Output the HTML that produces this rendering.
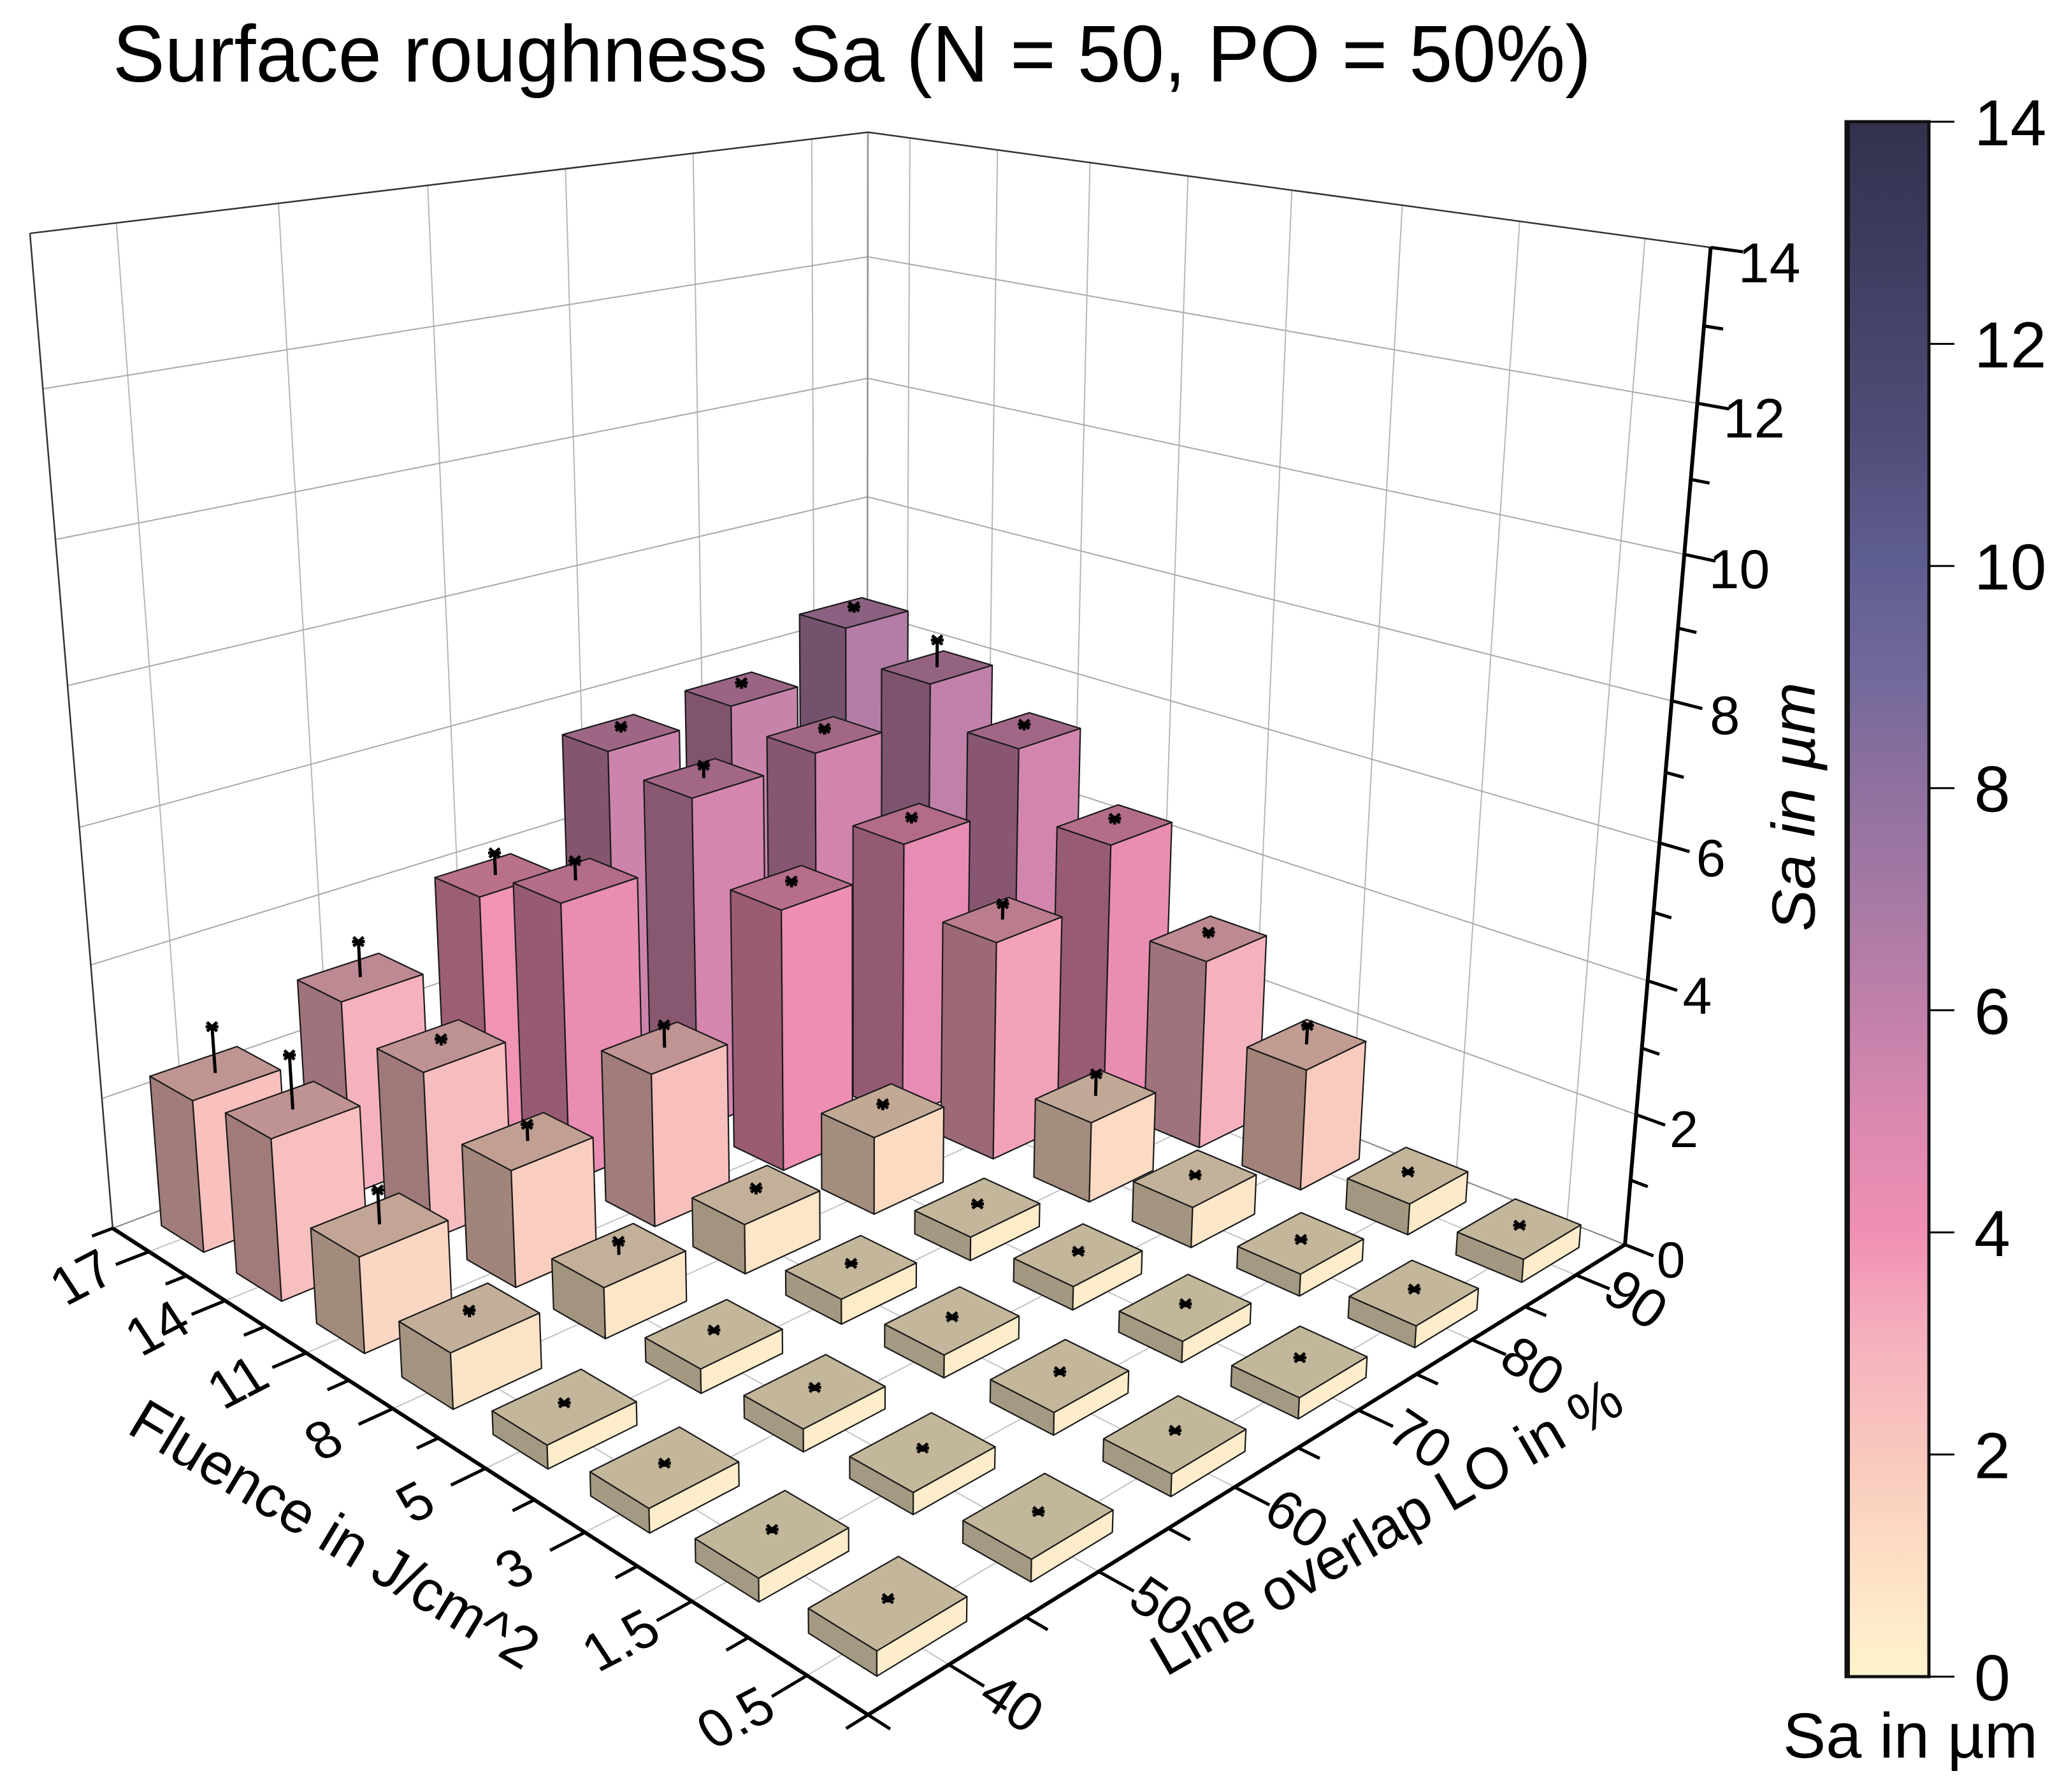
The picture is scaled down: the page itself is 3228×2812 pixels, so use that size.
<!DOCTYPE html>
<html><head><meta charset="utf-8"><title>Surface roughness Sa</title>
<style>
html,body{margin:0;padding:0;background:#fff;}
svg{display:block;font-family:"Liberation Sans",Arial,sans-serif;}
</style></head>
<body>
<svg id="chart" xmlns="http://www.w3.org/2000/svg" width="3228" height="2812" viewBox="0 0 3228 2812">
<rect x="0" y="0" width="3228" height="2812" fill="#ffffff"/>
<defs>
<linearGradient id="cbgrad" x1="0" y1="1" x2="0" y2="0"></linearGradient>
</defs>
<g id="walls"></g>
<g id="grid"></g>
<g id="axes"></g>
<g id="bars"></g>
<text x="1337" y="128" text-anchor="middle" font-size="126" textLength="2320" lengthAdjust="spacingAndGlyphs" fill="#000">Surface roughness Sa (N = 50, PO = 50%)</text>
<text transform="translate(2176,2396) rotate(-30)" text-anchor="middle" dominant-baseline="central" font-size="92" textLength="836" lengthAdjust="spacingAndGlyphs">Line overlap LO in %</text>
<text transform="translate(525,2408) rotate(31)" text-anchor="middle" dominant-baseline="central" font-size="92" textLength="729" lengthAdjust="spacingAndGlyphs">Fluence in J/cm^2</text>
<text transform="translate(2815,1266) rotate(-90)" text-anchor="middle" dominant-baseline="central" font-size="96" font-style="italic" textLength="391" lengthAdjust="spacingAndGlyphs">Sa in µm</text>
<g id="colorbar"></g>
<text x="2998" y="2758" text-anchor="middle" font-size="100" textLength="400" lengthAdjust="spacingAndGlyphs">Sa in µm</text>
</svg>
<script>
const fluenceLabels = ['0.5','1.5','3','5','8','11','14','17'];
const loLabels = ['40','50','60','70','80','90'];
const zTicks = [0,2,4,6,8,10,12,14];
const cbTicks = [0,2,4,6,8,10,12,14];
// Sa values per fluence row, LO 40..90
const saF0_5 = [0.32,0.30,0.31,0.30,0.32,0.35];
const saF1_5 = [0.31,0.30,0.32,0.31,0.33,0.48];
const saF3   = [0.33,0.32,0.33,0.35,0.62,1.90];
const saF5   = [0.33,0.35,0.37,0.36,1.25,3.00];
const saF8   = [0.80,0.75,0.75,1.20,3.45,4.30];
const saF11  = [1.40,1.75,2.35,4.10,4.45,5.35];
const saF14  = [2.40,2.55,4.35,5.30,5.40,5.95];
const saF17  = [2.30,3.00,3.90,5.55,5.70,6.45];
const errF0_5 = [0.05,0.05,0.05,0.05,0.05,0.05];
const errF1_5 = [0.05,0.05,0.05,0.05,0.05,0.05];
const errF3   = [0.05,0.05,0.05,0.05,0.05,0.30];
const errF5   = [0.05,0.05,0.05,0.05,0.35,0.10];
const errF8   = [0.10,0.20,0.10,0.10,0.25,0.10];
const errF11  = [0.50,0.25,0.35,0.10,0.10,0.10];
const errF14  = [0.80,0.10,0.30,0.20,0.10,0.45];
const errF17  = [0.70,0.55,0.35,0.10,0.10,0.10];
const saRows = [saF0_5,saF1_5,saF3,saF5,saF8,saF11,saF14,saF17];
const errRows = [errF0_5,errF1_5,errF3,errF5,errF8,errF11,errF14,errF17];

const ZMAX = 14;
const NS = 'http://www.w3.org/2000/svg';
// camera calibration (axis-box corners in pixel space): [u, v, z, px, py]
const calib = [
  [0,0,0,1365,2668],[1,0,0,170,1950],[0,1,0,2554,1968],[1,1,0,1362,1445],
  [1,0,14,54,350],[0,1,14,2679,362],[1,1,14,1362,208],
  [0,1,4,2587,1554],[0,1,8,2621,1112],[1,0,6,123,1308],[1,1,12,1362,426]
];
function solveLin(M,r){
  const n=r.length;
  for(let c=0;c<n;c++){
    let p=c;for(let k=c+1;k<n;k++) if(Math.abs(M[k][c])>Math.abs(M[p][c])) p=k;
    [M[c],M[p]]=[M[p],M[c]];[r[c],r[p]]=[r[p],r[c]];
    for(let k=c+1;k<n;k++){const f=M[k][c]/M[c][c];for(let j=c;j<n;j++) M[k][j]-=f*M[c][j];r[k]-=f*r[c];}
  }
  const x=new Array(n).fill(0);
  for(let c=n-1;c>=0;c--){let s=r[c];for(let j=c+1;j<n;j++) s-=M[c][j]*x[j];x[c]=s/M[c][c];}
  return x;
}
const P=(function(){
  const A=[],b=[];
  for(const [u,v,z,x,y] of calib){
    const X=v,Y=u,Z=z/ZMAX,xs=x/1000,ys=y/1000;
    A.push([X,Y,Z,1,0,0,0,0,-xs*X,-xs*Y,-xs*Z]);b.push(xs);
    A.push([0,0,0,0,X,Y,Z,1,-ys*X,-ys*Y,-ys*Z]);b.push(ys);
  }
  const M=[],r=[];
  for(let i=0;i<11;i++){M.push(new Array(11).fill(0));r.push(0);
    for(let k=0;k<A.length;k++){r[i]+=A[k][i]*b[k];for(let j=0;j<11;j++) M[i][j]+=A[k][i]*A[k][j];}}
  return solveLin(M,r);
})();
function depth(u,v,z){return P[8]*v+P[9]*u+P[10]*z/ZMAX+1;}
function proj(u,v,z){
  const X=v,Y=u,Z=z/ZMAX,w=P[8]*X+P[9]*Y+P[10]*Z+1;
  return [1000*(P[0]*X+P[1]*Y+P[2]*Z+P[3])/w,1000*(P[4]*X+P[5]*Y+P[6]*Z+P[7])/w];
}
const stops=['#fef3cc','#fde0c5','#f9c8bd','#f5b2be','#f08fb3','#dc89b0','#c080a9','#a679a4','#8f719f','#72699b','#5f5e91','#514f7b','#46456b','#3b3a5c','#32314d'];
function hex(c){return [parseInt(c.slice(1,3),16),parseInt(c.slice(3,5),16),parseInt(c.slice(5,7),16)];}
function cmap(val,shade){
  let t=Math.max(0,Math.min(ZMAX,val))/ZMAX*(stops.length-1);
  const i=Math.min(stops.length-2,Math.floor(t)),f=t-i;
  const a=hex(stops[i]),b=hex(stops[i+1]);
  const s=shade||1;
  return 'rgb('+[0,1,2].map(k=>Math.round((a[k]+(b[k]-a[k])*f)*s)).join(',')+')';
}
function mk(tag,attrs,parent){const el=document.createElementNS(NS,tag);for(const k in attrs) el.setAttribute(k,attrs[k]);parent.appendChild(el);return el;}
function pts(arr){return arr.map(p=>p[0].toFixed(1)+','+p[1].toFixed(1)).join(' ');}
function line(parent,a,b,stroke,w){return mk('line',{x1:a[0],y1:a[1],x2:b[0],y2:b[1],stroke:stroke,'stroke-width':w},parent);}

const gWalls=document.getElementById('walls'),gGrid=document.getElementById('grid'),gAxes=document.getElementById('axes'),gBars=document.getElementById('bars'),gCb=document.getElementById('colorbar');
let el=mk('polygon',{points:pts([proj(1,0,0),proj(1,1,0),proj(1,1,ZMAX),proj(1,0,ZMAX)]),fill:'#fff'},gWalls);


el=mk('polygon',{points:pts([proj(0,1,0),proj(1,1,0),proj(1,1,ZMAX),proj(0,1,ZMAX)]),fill:'#fff'},gWalls);


const nF=fluenceLabels.length,nL=loLabels.length;
for(let j=0;j<nL;j++){const v=(j+0.5)/nL;
  el=line(gGrid,proj(1,v,0),proj(1,v,ZMAX),'#b8b8b8',2);
  
  
  el=line(gGrid,proj(0,v,0),proj(1,v,0),'#c4c4c4',2);
  
  
}
for(let i=0;i<nF;i++){const u=(i+0.5)/nF;
  el=line(gGrid,proj(u,1,0),proj(u,1,ZMAX),'#b8b8b8',2);
  
  
  el=line(gGrid,proj(u,0,0),proj(u,1,0),'#c4c4c4',2);
  
  
}
for(const z of zTicks){
  el=line(gGrid,proj(1,0,z),proj(1,1,z),'#a8a8a8',2);
  
  
  el=line(gGrid,proj(0,1,z),proj(1,1,z),'#a8a8a8',2);
  
  
}
el=line(gGrid,proj(1,1,0),proj(1,1,ZMAX),'#909090',2.5);


el=line(gGrid,proj(1,0,0),proj(1,0,ZMAX),'#333',2.5);


el=line(gGrid,proj(1,0,ZMAX),proj(1,1,ZMAX),'#333',2.5);


el=line(gGrid,proj(1,1,ZMAX),proj(0,1,ZMAX),'#333',2.5);


el=line(gGrid,proj(1,0,0),proj(1,1,0),'#888',2);


el=line(gGrid,proj(0,1,0),proj(1,1,0),'#888',2);



el=line(gAxes,proj(0,0,0),proj(1,0,0),'#000',6);


el=line(gAxes,proj(0,0,0),proj(0,1,0),'#000',6);


el=line(gAxes,proj(0,1,0),proj(0,1,ZMAX),'#000',6);


for(let i=0;i<=2*nF;i++){const u=i/(2*nF);const major=i%2===1;
  el=line(gAxes,proj(u,0,0),proj(u,major?-0.035:-0.022,0),'#000',5);
  
  
}
for(let j=0;j<=2*nL;j++){const v=j/(2*nL);const major=j%2===1;
  el=line(gAxes,proj(0,v,0),proj(major?-0.035:-0.022,v,0),'#000',5);
  
  
}
for(let z=0;z<=ZMAX;z++){const major=z%2===0;
  el=line(gAxes,proj(0,1,z),proj(major?-0.03:-0.018,1,z),'#000',5);
  
  
}
fluenceLabels.forEach((lab,i)=>{const p=proj((i+0.5)/nF,-0.07,0);
  const t=mk('text',{transform:'translate('+p[0].toFixed(1)+','+p[1].toFixed(1)+') matrix(0.87,-0.45,0.55,0.84,0,0)','text-anchor':'middle','dominant-baseline':'central','font-size':86},gAxes);
  t.textContent=lab;
  
  
});
loLabels.forEach((lab,j)=>{const p=proj(-0.062,(j+0.5)/nL,0);
  const t=mk('text',{transform:'translate('+p[0].toFixed(1)+','+p[1].toFixed(1)+') rotate(34)','text-anchor':'middle','dominant-baseline':'central','font-size':86},gAxes);
  t.textContent=lab;
  
  
});
zTicks.forEach(z=>{const p=proj(0,1,z);
  const t=mk('text',{x:(p[0]+72+20*z/ZMAX).toFixed(1),y:(p[1]+24).toFixed(1),'text-anchor':'middle','dominant-baseline':'central','font-size':Math.round(80+8*z/ZMAX)},gAxes);
  t.textContent=String(z);
  
  
});

const cells=[];
for(let i=0;i<nF;i++) for(let j=0;j<nL;j++) cells.push({i:i,j:j,h:saRows[i][j],e:errRows[i][j],d:depth((i+0.5)/nF,(j+0.5)/nL,0)});
cells.sort((a,b)=>b.d-a.d);
const hu=0.285/nF,hv=0.285/nL;
cells.forEach(c=>{
  const cu=(c.i+0.5)/nF,cv=(c.j+0.5)/nL,u0=cu-hu,u1=cu+hu,v0=cv-hv,v1=cv+hv,h=c.h;
  const g=mk('g',{},gBars);
  
  
  const st={stroke:'#1a1a1a','stroke-width':2.2,'stroke-linejoin':'round'};
  let f=mk('polygon',Object.assign({points:pts([proj(u0,v0,0),proj(u1,v0,0),proj(u1,v0,h),proj(u0,v0,h)]),fill:cmap(h,0.645)},st),g);
  
  
  f=mk('polygon',Object.assign({points:pts([proj(u0,v0,0),proj(u0,v1,0),proj(u0,v1,h),proj(u0,v0,h)]),fill:cmap(h,1.0)},st),g);
  
  
  f=mk('polygon',Object.assign({points:pts([proj(u0,v0,h),proj(u1,v0,h),proj(u1,v1,h),proj(u0,v1,h)]),fill:cmap(h,0.77)},st),g);
  
  
  const a=proj(cu,cv,h),b=proj(cu,cv,h+c.e);
  let e=line(g,a,b,'#000',5);
  
  
  e=line(g,[b[0]-10,b[1]],[b[0]+10,b[1]],'#000',5);
  
  
  e=mk('path',{d:'M'+(b[0]-8)+','+(b[1]-7)+'L'+(b[0]+8)+','+(b[1]+7)+'M'+(b[0]+8)+','+(b[1]-7)+'L'+(b[0]-8)+','+(b[1]+7),stroke:'#000','stroke-width':5},g);
  
  
});

const grad=document.getElementById('cbgrad');
for(let k=0;k<=28;k++){const val=k*ZMAX/28;
  mk('stop',{offset:(val/ZMAX).toFixed(4),'stop-color':cmap(val,1)},grad);
}
const cbX=2897,cbW=130,cbTop=191,cbBot=2631;
el=mk('rect',{x:cbX,y:cbTop,width:cbW,height:cbBot-cbTop,fill:'url(#cbgrad)',stroke:'#111','stroke-width':5},gCb);


el=mk('rect',{x:cbX,y:cbTop,width:6,height:cbBot-cbTop,fill:'#111'},gCb);


cbTicks.forEach(val=>{const y=cbBot-(cbBot-cbTop)*val/ZMAX;
  let t=line(gCb,[cbX+cbW,y],[cbX+cbW+40,y],'#000',3);
  
  
  t=mk('text',{x:3098,y:(y+37).toFixed(1),'font-size':102,'text-anchor':'start'},gCb);
  t.textContent=String(val);
  
  
});
</script>
</body></html>
